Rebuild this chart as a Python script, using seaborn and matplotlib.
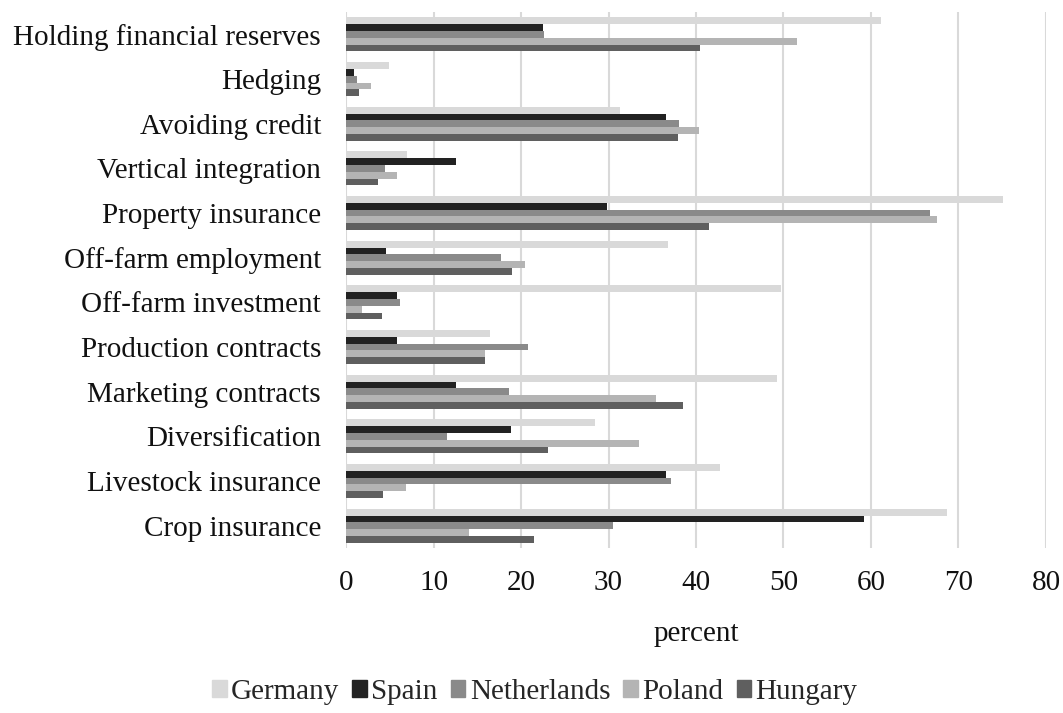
import matplotlib
matplotlib.use("Agg")
import matplotlib.pyplot as plt
import seaborn as sns
import pandas as pd

# Risk management strategies (top to bottom)
strategies = [
    "Holding financial reserves", "Hedging", "Avoiding credit",
    "Vertical integration", "Property insurance", "Off-farm employment",
    "Off-farm investment", "Production contracts", "Marketing contracts",
    "Diversification", "Livestock insurance", "Crop insurance",
]
countries = ["Germany", "Spain", "Netherlands", "Poland", "Hungary"]

germany     = [61.1, 4.9, 31.3, 7.0, 75.1, 36.8, 49.7, 16.4, 49.3, 28.4, 42.8, 68.7]
spain       = [22.5, 0.9, 36.6, 12.6, 29.8, 4.6, 5.8, 5.8, 12.6, 18.8, 36.6, 59.2]
netherlands = [22.6, 1.3, 38.1, 4.4, 66.8, 17.7, 6.2, 20.8, 18.6, 11.5, 37.2, 30.5]
poland      = [51.5, 2.9, 40.3, 5.8, 67.5, 20.4, 1.8, 15.9, 35.4, 33.5, 6.8, 14.1]
hungary     = [40.5, 1.5, 37.9, 3.6, 41.5, 19.0, 4.1, 15.9, 38.5, 23.1, 4.2, 21.5]

colors = ["#d9d9d9", "#222222", "#8a8a8a", "#b4b4b4", "#5f5f5f"]

series = dict(zip(countries, [germany, spain, netherlands, poland, hungary]))
rows = []
for c in countries:
    for s, v in zip(strategies, series[c]):
        rows.append({"strategy": s, "country": c, "percent": v})
df = pd.DataFrame(rows)

sns.set_theme(style="white")
plt.rcParams["font.family"] = ["Liberation Serif", "DejaVu Serif"]

fig = plt.figure(figsize=(10.63, 7.13), dpi=100)
ax = fig.add_axes([0.3255, 0.2314, 0.6585, 0.7516])

sns.barplot(
    data=df, y="strategy", x="percent", hue="country",
    order=strategies, hue_order=countries, palette=colors,
    orient="h", width=0.76, saturation=1, linewidth=0, ax=ax, legend=True,
)

ax.set_xlim(0, 80)
ax.set_xticks(range(0, 81, 10))
ax.xaxis.grid(True, color="#d9d9d9", linewidth=1.5)
ax.yaxis.grid(False)
ax.set_axisbelow(True)
for sp in ax.spines.values():
    sp.set_visible(False)
ax.tick_params(axis="both", length=0, labelsize=21, colors="#111111")
ax.tick_params(axis="x", pad=16)
ax.tick_params(axis="y", pad=18)
ax.set_ylabel("")
ax.set_xlabel("percent", fontsize=21, color="#111111", labelpad=18)

ax.get_legend().remove()
handles = [plt.Rectangle((0, 0), 1, 1, color=c) for c in colors]
fig.legend(handles, countries, loc="center", bbox_to_anchor=(0.503, 0.030),
           ncol=5, frameon=False, fontsize=21, handlelength=0.5,
           handleheight=0.5, handletextpad=0.15, columnspacing=0.45)

fig.savefig("out.png", dpi=100)
